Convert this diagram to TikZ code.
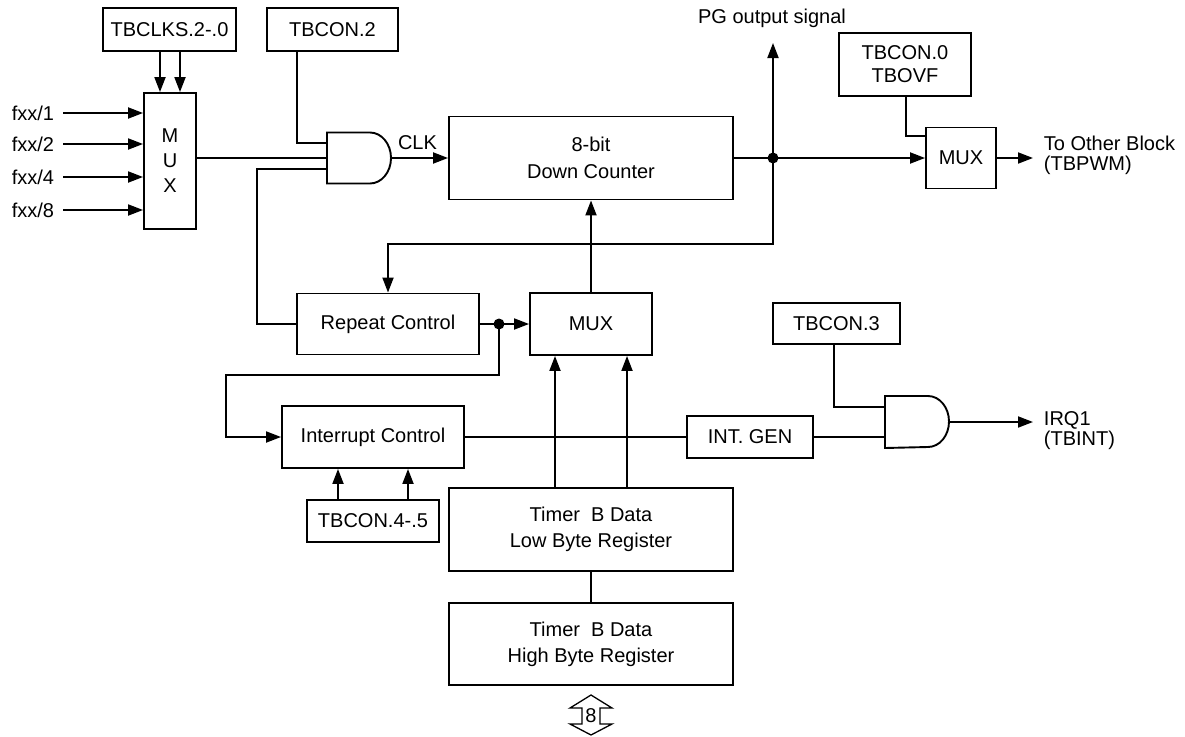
\documentclass[tikz,border=0pt]{standalone}
\usepackage{fontspec}
\setmainfont{Liberation Sans}
\usetikzlibrary{arrows.meta,calc}
\newcommand\andoutline[1]{\draw (#1.north west) -- ($(#1.north east)+(-21,0)$) arc[start angle=90, end angle=-90, x radius=21pt, y radius=25.5pt] -- (#1.south west) -- cycle;}
\begin{document}
\begin{tikzpicture}[x=1pt,y=-1pt, line width=1.9pt,
  box/.style={draw, rectangle, inner sep=0pt, align=center, font=\fontsize{20}{26}\selectfont},
  lbl/.style={inner sep=0pt, align=left, font=\fontsize{20}{20}\selectfont},
  gate/.style={inner sep=0pt, outer sep=0pt, minimum width=64pt, minimum height=51pt},
  arr/.style={-{Triangle[length=15pt,width=11pt]}}
]
\useasboundingbox (0,0) rectangle (1185,736);

% boxes
\node[box, minimum width=133pt, minimum height=43pt] (tbclks) at (169.5,29.5) {TBCLKS.2-.0};
\node[box, minimum width=131pt, minimum height=43pt] (tbcon2) at (332.5,29.5) {TBCON.2};
\node[box, minimum width=52pt, minimum height=136pt, font=\fontsize{20}{25}\selectfont] (mux1) at (170,161) {M\\U\\X};
\node[box, minimum width=284pt, minimum height=83pt, font=\fontsize{20}{27}\selectfont] (counter) at (591,158) {8-bit\\Down Counter};
\node[box, minimum width=132pt, minimum height=63pt, font=\fontsize{20}{23}\selectfont] (tbcon0) at (905,64.5) {TBCON.0\\TBOVF};
\node[box, minimum width=70pt, minimum height=61pt] (mux2) at (961,158) {MUX};
\node[box, minimum width=182pt, minimum height=61pt] (repeat) at (388,324) {Repeat Control};
\node[box, minimum width=122pt, minimum height=62pt] (mux3) at (591,324) {MUX};
\node[box, minimum width=127pt, minimum height=41pt] (tbcon3) at (836.5,323.5) {TBCON.3};
\node[box, minimum width=182pt, minimum height=62pt] (intctl) at (373,437) {Interrupt Control};
\node[box, minimum width=126pt, minimum height=42pt] (intgen) at (750,437) {INT. GEN};
\node[box, minimum width=132pt, minimum height=42pt] (tbcon45) at (373,521) {TBCON.4-.5};
\node[box, minimum width=284pt, minimum height=83pt] (low) at (591,529.5) {Timer\ \ B Data\\Low Byte Register};
\node[box, minimum width=284pt, minimum height=82pt] (high) at (591,644) {Timer\ \ B Data\\High Byte Register};

% gates
\node[gate] (and1) at (359,158) {};
\andoutline{and1}
\node[gate, minimum height=52pt] (and2) at (917,422) {};
\andoutline{and2}

% labels
\node[lbl, anchor=east] (f1) at (55,113) {fxx/1};
\node[lbl, anchor=east] (f2) at (55,144) {fxx/2};
\node[lbl, anchor=east] (f3) at (55,177) {fxx/4};
\node[lbl, anchor=east] (f4) at (55,210) {fxx/8};
\node[lbl] (clk) at (417.5,143) {CLK};
\node[lbl] (pglbl) at (772,18) {PG output signal};
\node[lbl, anchor=west, inner xsep=10pt] (tob) at (1033,155) {To Other Block\\(TBPWM)};
\node[lbl, anchor=west, inner xsep=10pt] (irq) at (1033,431) {IRQ1\\(TBINT)};
\coordinate (pgend) at (773,43);
\coordinate (j1) at (773,158);
\coordinate (j2) at (499,324);

% connectors
\draw[arr] (160,0 |- tbclks.south) -- (160,0 |- mux1.north);
\draw[arr] (180,0 |- tbclks.south) -- (180,0 |- mux1.north);
\foreach \f in {f1,f2,f3,f4}
  \draw[arr] ([xshift=8pt]\f.east) -- (\f -| mux1.west);
\draw (mux1.east |- and1.west) -- (and1.west);
\draw (297,0 |- tbcon2.south) |- ($(and1.west)+(0,-15)$);
\draw (repeat.west) -| ($(and1.west)+(-70,11)$) -- ($(and1.west)+(0,11)$);
\draw[arr] (and1.east) -- (counter.west);
\draw[arr] (counter.east |- mux2.west) -- (mux2.west);
\draw[arr] (j1) -- (pgend);
\draw (906,0 |- tbcon0.south) |- ($(mux2.west)+(0,-22)$);
\draw[arr] (mux2.east) -- (mux2.east -| tob.west);
\draw[arr] (j1) |- (repeat.north |- 0,244) -- (repeat.north);
\draw[arr] (mux3.north) -- (counter.south);
\draw[arr] (repeat.east |- mux3.west) -- (mux3.west);
\draw[arr] (j2) |- (226,375) |- (intctl.west);
\draw[arr] (338,0 |- tbcon45.north) -- (338,0 |- intctl.south);
\draw[arr] (408,0 |- tbcon45.north) -- (408,0 |- intctl.south);
\draw (intctl.east) -- (intgen.west);
\draw (intgen.east) -- ($(and2.west)+(0,15)$);
\draw (834,0 |- tbcon3.south) |- ($(and2.west)+(0,-15)$);
\draw[arr] (and2.east) -- (and2.east -| irq.west);
\draw[arr] (555,0 |- low.north) -- (555,0 |- mux3.south);
\draw[arr] (627,0 |- low.north) -- (627,0 |- mux3.south);
\draw (low.south) -- (high.north);

\fill (j1) circle[radius=5.5pt];
\fill (j2) circle[radius=5.5pt];

% bus arrow
\node[lbl] (bus) at (591,716) {8};
\draw[line width=1.3pt] (591,695) -- (612,708) -- (600,708) -- (600,724) -- (612,724) -- (591,735) -- (570,724) -- (582,724) -- (582,708) -- (570,708) -- cycle;
\end{tikzpicture}
\end{document}
